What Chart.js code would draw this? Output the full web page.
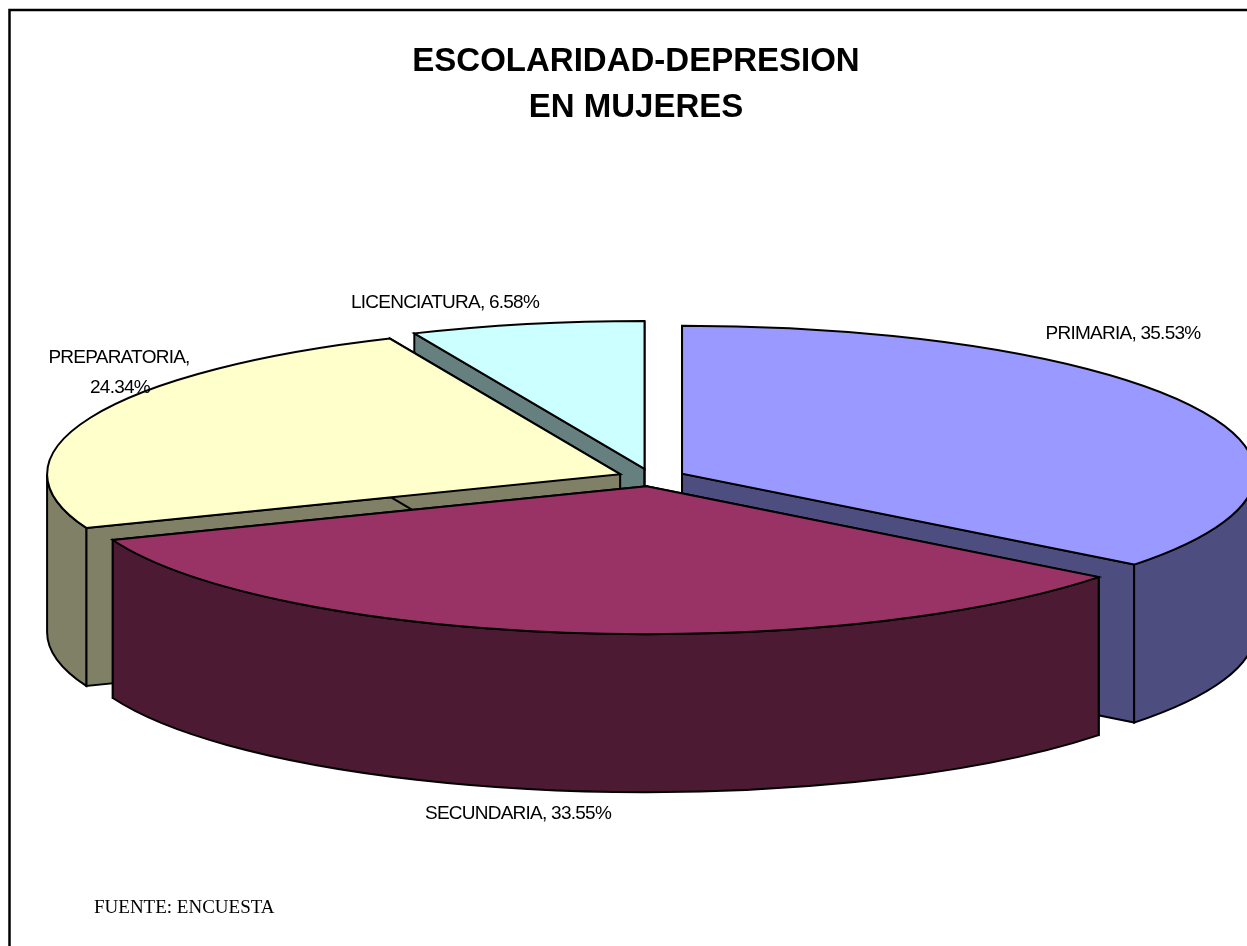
<!DOCTYPE html>
<html>
<head>
<meta charset="utf-8">
<title>Escolaridad-Depresion en mujeres</title>
<script src="https://cdn.jsdelivr.net/npm/chart.js@4/dist/chart.umd.min.js"></script>
<style>
html,body{margin:0;padding:0;background:#fff;overflow:hidden;width:1247px;height:946px}
canvas{display:block}
</style>
</head>
<body>
<canvas id="c" width="1272" height="946"></canvas>
<script>
const categories = ["PRIMARIA", "SECUNDARIA", "PREPARATORIA", "LICENCIATURA"];
const values = [35.53, 33.55, 24.34, 6.58];
const titleLines = ["ESCOLARIDAD-DEPRESION", "EN MUJERES"];
const sourceNote = "FUENTE: ENCUESTA";
const topColors = ["#9999FF", "#993366", "#FFFFCC", "#CCFFFF"];
const wallColors = ["#4D4D80", "#4D1A33", "#808066", "#668080"];

const view = { squash: 148 / 573, depth: 158, explode: 34, shiftX: 15.5 };
const labelSpots = [
  [{ x: 1123, y: 334 }],
  [{ x: 518, y: 814 }],
  [{ x: 119, y: 358 }, { x: 120, y: 388 }],
  [{ x: 445, y: 303 }]
];

function geom(arc) {
  const mid = (arc.startAngle + arc.endAngle) / 2;
  return {
    cx: arc.x + view.shiftX + Math.cos(mid) * view.explode,
    cy: arc.y + Math.sin(mid) * view.explode * view.squash,
    r: arc.outerRadius,
    ry: arc.outerRadius * view.squash,
    a0: arc.startAngle,
    a1: arc.endAngle,
    mid
  };
}
function rimPoint(g, t) {
  return [g.cx + Math.cos(t) * g.r, g.cy + Math.sin(t) * g.ry];
}
function paintPath(ctx, fill) {
  ctx.fillStyle = fill;
  ctx.fill();
  ctx.lineWidth = 2;
  ctx.lineJoin = "miter";
  ctx.strokeStyle = "#000";
  ctx.stroke();
}
function radialWall(ctx, g, t, fill) {
  const [x, y] = rimPoint(g, t);
  ctx.beginPath();
  ctx.moveTo(g.cx, g.cy);
  ctx.lineTo(x, y);
  ctx.lineTo(x, y + view.depth);
  ctx.lineTo(g.cx, g.cy + view.depth);
  ctx.closePath();
  paintPath(ctx, fill);
}
function rimWall(ctx, g, fill) {
  // only the part of the rim that faces the viewer (lower half of the ellipse)
  const ranges = [[0, Math.PI], [2 * Math.PI, 3 * Math.PI], [-2 * Math.PI, -Math.PI]];
  for (const [lo, hi] of ranges) {
    const s = Math.max(g.a0, lo), e = Math.min(g.a1, hi);
    if (e <= s) continue;
    ctx.beginPath();
    ctx.ellipse(g.cx, g.cy, g.r, g.ry, 0, s, e);
    ctx.ellipse(g.cx, g.cy + view.depth, g.r, g.ry, 0, e, s, true);
    ctx.closePath();
    paintPath(ctx, fill);
  }
}

const pie3d = {
  id: "pie3d",
  beforeDraw(chart) {
    const ctx = chart.ctx;
    ctx.save();
    ctx.fillStyle = "#fff";
    ctx.fillRect(0, 0, chart.width, chart.height);
    ctx.lineWidth = 2.5;
    ctx.strokeStyle = "#000";
    ctx.strokeRect(9.5, 10, 1400, 1200);
    ctx.restore();
  },
  beforeDatasetDraw(chart, args) {
    const ctx = chart.ctx;
    const arcs = args.meta.data;
    const order = arcs.map((_, i) => i).sort((a, b) =>
      Math.sin((arcs[a].startAngle + arcs[a].endAngle) / 2) -
      Math.sin((arcs[b].startAngle + arcs[b].endAngle) / 2));
    for (const i of order) {
      const arc = arcs[i];
      const g = geom(arc);
      ctx.save();
      radialWall(ctx, g, g.a0, wallColors[i]);
      radialWall(ctx, g, g.a1, wallColors[i]);
      rimWall(ctx, g, wallColors[i]);
      // top face: the library's own arc element, flattened into perspective
      ctx.save();
      ctx.translate(g.cx, g.cy);
      ctx.scale(1, view.squash);
      ctx.translate(-arc.x, -arc.y);
      arc.draw(ctx);
      ctx.restore();
      ctx.beginPath();
      ctx.moveTo(g.cx, g.cy);
      ctx.ellipse(g.cx, g.cy, g.r, g.ry, 0, g.a0, g.a1);
      ctx.closePath();
      ctx.lineWidth = 2;
      ctx.strokeStyle = "#000";
      ctx.stroke();
      ctx.restore();
    }
    return false;
  },
  afterDraw(chart) {
    const ctx = chart.ctx;
    ctx.save();
    ctx.fillStyle = "#000";
    ctx.textAlign = "center";
    ctx.textBaseline = "middle";
    ctx.font = "19px 'Liberation Sans', Arial, sans-serif";
    ctx.letterSpacing = "-0.75px";
    categories.forEach((cat, i) => {
      const pct = values[i].toFixed(2) + "%";
      const spots = labelSpots[i];
      const lines = spots.length > 1 ? [cat + ",", pct] : [cat + ", " + pct];
      lines.forEach((t, j) => ctx.fillText(t, spots[j].x, spots[j].y));
    });
    ctx.letterSpacing = "0px";
    ctx.textAlign = "left";
    ctx.font = "19px 'Liberation Serif', 'Times New Roman', serif";
    ctx.fillText(sourceNote, 94, 908);
    ctx.restore();
  }
};

new Chart(document.getElementById("c"), {
  type: "pie",
  data: {
    labels: categories,
    datasets: [{
      data: values,
      backgroundColor: topColors,
      borderWidth: 0,
      offset: 0,
      radius: 573
    }]
  },
  options: {
    responsive: false,
    animation: false,
    events: [],
    layout: { padding: { top: 0, left: 0, right: 0, bottom: 122 } },
    plugins: {
      legend: { display: false },
      tooltip: { enabled: false },
      title: {
        display: true,
        text: titleLines,
        color: "#000",
        font: { family: "'Liberation Sans', Arial, sans-serif", size: 33, weight: "bold", lineHeight: 46 / 33 },
        padding: { top: 39, bottom: 0 }
      }
    }
  },
  plugins: [pie3d]
});
</script>
</body>
</html>
